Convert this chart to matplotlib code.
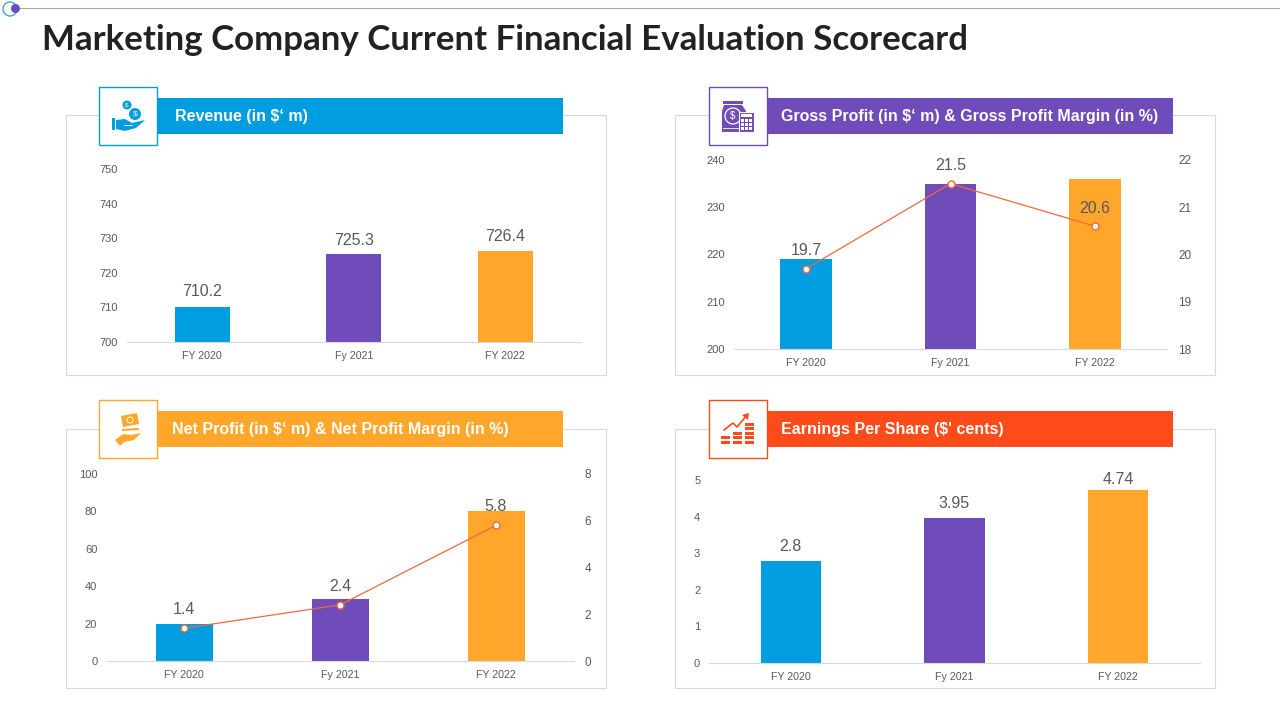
import matplotlib
matplotlib.use('Agg')
import matplotlib.pyplot as plt
from matplotlib.patches import Rectangle, Circle, Polygon

plt.rcParams['font.family'] = ['Liberation Sans', 'DejaVu Sans']

BLUE = '#009DE0'
PURPLE = '#704CBA'
ORANGE = '#FFA62B'
RED = '#FF4B19'
LINE = '#EE6A3C'
TEXT = '#595959'
BAR_COLORS = [BLUE, PURPLE, ORANGE]

# data
rev_cats = ['FY 2020', 'Fy 2021', 'FY 2022']
rev_vals = [710.2, 725.3, 726.4]
rev_ticks = [700, 710, 720, 730, 740, 750]

gross_cats = ['FY 2020', 'Fy 2021', 'FY 2022']
gross_vals = [219, 235, 236]
gross_margin = [19.7, 21.5, 20.6]
gross_ticks = [200, 210, 220, 230, 240]
gross_margin_ticks = [18, 19, 20, 21, 22]

net_cats = ['FY 2020', 'Fy 2021', 'FY 2022']
net_vals = [20, 33, 80]
net_margin = [1.4, 2.4, 5.8]
net_ticks = [0, 20, 40, 60, 80, 100]
net_margin_ticks = [0, 2, 4, 6, 8]

eps_cats = ['FY 2020', 'Fy 2021', 'FY 2022']
eps_vals = [2.8, 3.95, 4.74]
eps_ticks = [0, 1, 2, 3, 4, 5]

fig = plt.figure(figsize=(12.8, 7.2), dpi=100)

# full page layer in pixel coords, used for boxes, headers and icons
page = fig.add_axes([0, 0, 1, 1])
page.set_xlim(0, 1280)
page.set_ylim(720, 0)
page.axis('off')


def px_axes(left, right, top, bottom):
    ax = fig.add_axes([left / 1280, 1 - bottom / 720, (right - left) / 1280, (bottom - top) / 720])
    ax.patch.set_alpha(0)
    for s in ['top', 'left', 'right']:
        ax.spines[s].set_visible(False)
    ax.spines['bottom'].set_color('#D9D9D9')
    ax.spines['bottom'].set_linewidth(0.8)
    ax.tick_params(axis='both', length=0, labelsize=8, labelcolor=TEXT)
    ax.tick_params(axis='x', labelsize=7.7, pad=6.5)
    return ax


def bar_panel(left, right, top, bottom, cats, vals, ticks, bar_w, offsets=None):
    ax = px_axes(left, right, top, bottom)
    ax.bar(range(len(vals)), vals, width=bar_w, color=BAR_COLORS)
    ax.set_xlim(-0.5, len(vals) - 0.5)
    ax.set_ylim(ticks[0], ticks[-1])
    ax.set_xticks(range(len(vals)))
    ax.set_xticklabels(cats)
    ax.set_yticks(ticks)
    ax.tick_params(axis='y', pad=6.3)
    if offsets:
        for i, v in enumerate(vals):
            ax.annotate(str(v), xy=(i, v), xytext=(0, offsets[i]), textcoords='offset points',
                        ha='center', va='bottom', fontsize=11.5, color=TEXT, annotation_clip=False)
    return ax


def line_overlay(ax, vals, ticks, pad, offsets):
    ax2 = ax.twinx()
    ax2.patch.set_alpha(0)
    for s in ax2.spines.values():
        s.set_visible(False)
    ax2.plot(range(len(vals)), vals, color=LINE, lw=0.9, marker='o', ms=5,
             mfc='white', mec=LINE, mew=1)
    ax2.set_ylim(ticks[0], ticks[-1])
    ax2.set_yticks(ticks)
    ax2.tick_params(axis='y', length=0, labelsize=8.5, labelcolor=TEXT, pad=pad)
    for i, v in enumerate(vals):
        ax2.annotate(str(v), xy=(i, v), xytext=(0, offsets[i]), textcoords='offset points',
                     ha='center', va='bottom', fontsize=11.5, color=TEXT)
    return ax2


def frame(x0, x1, y0, y1):
    page.add_patch(Rectangle((x0, y0), x1 - x0, y1 - y0, fc='white', ec='#D9D9D9', lw=0.8))


def header(x, y, color, text, text_x):
    # icon box is 58px wide, the bar runs on from it
    page.add_patch(Rectangle((x + 58, y + 11), 406, 36, fc=color, ec='none', zorder=3))
    page.add_patch(Rectangle((x, y), 58, 58, fc='white', ec=color, lw=1, zorder=4))
    page.text(text_x, y + 29.5, text, color='white', fontsize=11.55, fontweight='bold',
              ha='left', va='center', zorder=5)


def icon_hand_coins(x, y, c):
    z = 6
    page.add_patch(Circle((x + 28, y + 18), 4.5, fc=c, ec='none', zorder=z))
    page.add_patch(Circle((x + 36, y + 27), 6, fc=c, ec='none', zorder=z))
    page.text(x + 28, y + 18, '$', color='white', fontsize=4.5, ha='center', va='center', zorder=z + 1)
    page.text(x + 36, y + 27, '$', color='white', fontsize=6, ha='center', va='center', zorder=z + 1)
    page.add_patch(Rectangle((x + 13, y + 31), 3, 12, fc=c, ec='none', zorder=z))
    page.add_patch(Polygon([(x + 17, y + 33), (x + 26, y + 32), (x + 33, y + 36), (x + 46, y + 33),
                            (x + 37, y + 41), (x + 26, y + 44), (x + 17, y + 42)],
                           fc=c, ec='none', zorder=z))
    page.plot([x + 25, x + 33], [y + 37.5, y + 37.5], color='white', lw=0.6, zorder=z + 1)


def icon_jar_calc(x, y, c):
    z = 6
    page.add_patch(Rectangle((x + 14, y + 14), 20, 3, fc=c, ec='none', zorder=z))
    page.add_patch(Polygon([(x + 15, y + 18), (x + 33, y + 18), (x + 37, y + 24), (x + 37, y + 45),
                            (x + 13, y + 45), (x + 13, y + 24)], fc=c, ec='none', zorder=z))
    page.add_patch(Circle((x + 24, y + 29), 8, fc='none', ec='white', lw=0.9, zorder=z + 1))
    page.text(x + 24, y + 29, '$', color='white', fontsize=7, ha='center', va='center', zorder=z + 1)
    page.plot([x + 14, x + 30], [y + 41, y + 41], color='white', lw=0.6, zorder=z + 1)
    page.add_patch(Rectangle((x + 30, y + 25), 15, 20, fc=c, ec='white', lw=0.8, zorder=z + 2))
    page.add_patch(Rectangle((x + 32, y + 27), 11, 3, fc='white', ec='none', zorder=z + 3))
    for i in range(3):
        for j in range(3):
            page.add_patch(Rectangle((x + 32 + i * 4, y + 32 + j * 4), 2.5, 2.5, fc='white', ec='none', zorder=z + 3))


def icon_hand_cash(x, y, c):
    z = 6
    page.add_patch(Polygon([(x + 22, y + 16), (x + 38, y + 13), (x + 40, y + 24), (x + 24, y + 27)],
                           fc=c, ec='none', zorder=z))
    page.add_patch(Circle((x + 31, y + 20), 3, fc='none', ec='white', lw=0.7, zorder=z + 1))
    page.add_patch(Polygon([(x + 23, y + 29), (x + 40, y + 28), (x + 40, y + 30), (x + 23, y + 31)],
                           fc=c, ec='none', zorder=z))
    page.add_patch(Polygon([(x + 16, y + 40), (x + 24, y + 34), (x + 32, y + 35), (x + 42, y + 33),
                            (x + 35, y + 40), (x + 25, y + 42), (x + 21, y + 46)],
                           fc=c, ec='none', zorder=z))


def icon_growth(x, y, c):
    z = 6
    for col, n in zip([12, 24, 36], [2, 3, 5]):
        for k in range(n):
            page.add_patch(Rectangle((x + col, y + 40.5 - k * 4.5), 9, 3.4, fc=c, ec='none', zorder=z))
    page.plot([x + 15, x + 24, x + 28, x + 38], [y + 30, y + 23, y + 27, y + 15], color=c, lw=1.2, zorder=z)
    page.add_patch(Polygon([(x + 33, y + 15), (x + 40, y + 13), (x + 39, y + 20)], fc=c, ec='none', zorder=z))


# top decoration and title
page.plot([20, 1280], [8, 8], color='#A6A6A6', lw=0.8)
page.add_patch(Circle((10, 9), 7, fc='white', ec='#2E9FD8', lw=0.9, zorder=3))
page.add_patch(Circle((15.5, 8.5), 4.5, fc=PURPLE, ec='none', zorder=4))
page.text(42, 40.5, 'Marketing Company Current Financial Evaluation Scorecard',
          family='Lato', fontsize=25.1, fontweight='bold', color='#222222', ha='left', va='center')

# panel frames
frame(66, 606, 115, 375)
frame(675, 1215, 115, 375)
frame(66, 606, 429, 688)
frame(675, 1215, 429, 688)

header(99, 87, BLUE, 'Revenue (in $‘ m)', 175)
header(709, 87, PURPLE, 'Gross Profit (in $‘ m) & Gross Profit Margin (in %)', 781)
header(99, 400, ORANGE, 'Net Profit (in $‘ m) & Net Profit Margin (in %)', 172)
header(709, 400, RED, 'Earnings Per Share ($\' cents)', 781)

icon_hand_coins(99, 87, BLUE)
icon_jar_calc(709, 87, PURPLE)
icon_hand_cash(99, 400, ORANGE)
icon_growth(709, 400, RED)

# charts
ax1 = bar_panel(126.5, 581, 169, 342, rev_cats, rev_vals, rev_ticks, 55 / 151.5, [5.5, 5, 5])

ax2 = bar_panel(734, 1167, 160, 349, gross_cats, gross_vals, gross_ticks, 52 / 144.5)
line_overlay(ax2, gross_margin, gross_margin_ticks, 8, [8, 8, 7.5])

ax3 = bar_panel(106, 574, 474, 661, net_cats, net_vals, net_ticks, 57 / 156)
line_overlay(ax3, net_margin, net_margin_ticks, 7.5, [8, 8, 8])

ax4 = bar_panel(709, 1200, 480, 663, eps_cats, eps_vals, eps_ticks, 60 / 163.5, [5, 5, 1.5])

fig.savefig('out.png', dpi=100)
